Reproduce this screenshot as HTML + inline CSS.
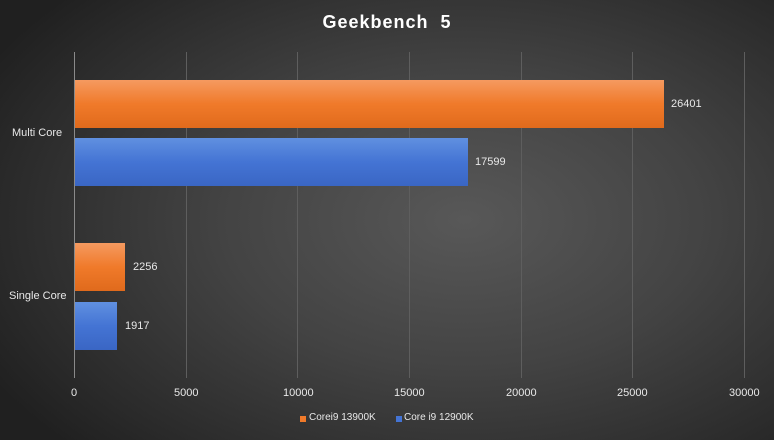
<!DOCTYPE html>
<html><head><style>
body{margin:0;width:774px;height:440px;overflow:hidden;font-family:"Liberation Sans",sans-serif;}
.bg{position:absolute;left:0;top:0;width:774px;height:440px;background:radial-gradient(ellipse 70% 75% at 60% 50%,#585858 0%,#434343 45%,#2a2a2a 85%,#202020 100%);}
.t{position:absolute;color:#e8e8e8;font-size:11px;}
.g{position:absolute;top:52px;height:326px;width:1px;background:#5e5e5e;}
.bar{position:absolute;left:75px;}
.o{background:linear-gradient(#f59a60,#f07a2a 50%,#e06a1c);}
.b{background:linear-gradient(#6090e0,#4474d4 50%,#3a66c4);}
</style></head><body>
<div class="bg"></div>
<div class="t" style="left:0;width:774px;top:12px;text-align:center;font-size:18px;font-weight:bold;letter-spacing:1px;color:#fff">Geekbench&nbsp; 5</div>
<div class="g" style="left:74px;background:#8a8a8a"></div>
<div class="g" style="left:186px"></div>
<div class="g" style="left:297px"></div>
<div class="g" style="left:409px"></div>
<div class="g" style="left:521px"></div>
<div class="g" style="left:632px"></div>
<div class="g" style="left:744px"></div>
<div class="bar o" style="top:80px;height:48px;width:589px"></div>
<div class="bar b" style="top:138px;height:48px;width:393px"></div>
<div class="bar o" style="top:243px;height:48px;width:50px"></div>
<div class="bar b" style="top:302px;height:48px;width:42px"></div>
<div class="t" style="left:671px;top:98px">26401</div>
<div class="t" style="left:475px;top:156px">17599</div>
<div class="t" style="left:133px;top:261px">2256</div>
<div class="t" style="left:125px;top:320px">1917</div>
<div class="t" style="left:12px;top:127px">Multi Core</div>
<div class="t" style="left:9px;top:290px">Single Core</div>
<div class="t" style="left:71px;top:387px">0</div>
<div class="t" style="left:174px;top:387px">5000</div>
<div class="t" style="left:283px;top:387px">10000</div>
<div class="t" style="left:394px;top:387px">15000</div>
<div class="t" style="left:506px;top:387px">20000</div>
<div class="t" style="left:617px;top:387px">25000</div>
<div class="t" style="left:729px;top:387px">30000</div>
<div style="position:absolute;left:300px;top:416px;width:6px;height:6px;background:#f07a2a"></div>
<div class="t" style="left:309px;top:412px;font-size:10px">Corei9 13900K</div>
<div style="position:absolute;left:396px;top:416px;width:6px;height:6px;background:#4474d4"></div>
<div class="t" style="left:404px;top:412px;font-size:10px">Core i9 12900K</div>
</body></html>
